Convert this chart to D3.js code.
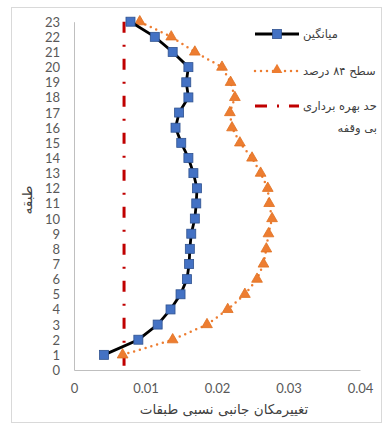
<!DOCTYPE html>
<html>
<head>
<meta charset="utf-8">
<script src="https://cdn.jsdelivr.net/npm/d3@7"></script>
<style>
  body { margin: 0; background: #fff; }
  .axis path, .axis line { stroke: #bfbfbf; }
  .axis text { font-family: Lato, 'DejaVu Sans', sans-serif; font-size: 13px; fill: #595959; }
</style>
</head>
<body>
<div class="chart-container"></div>
<script>
// Data
const floors = d3.range(1, 24);
const meanDrift = [0.0042, 0.0090, 0.0117, 0.0135, 0.0149, 0.0158, 0.0161, 0.0162, 0.0164, 0.0169,
                   0.0171, 0.0172, 0.0167, 0.0160, 0.0150, 0.0142, 0.0147, 0.0160, 0.0157, 0.0160,
                   0.0138, 0.0113, 0.0079];
const p84Drift = [0.0068, 0.0138, 0.0186, 0.0215, 0.0239, 0.0256, 0.0265, 0.0269, 0.0272, 0.0277,
                  0.0273, 0.0271, 0.0261, 0.0249, 0.0232, 0.0221, 0.0218, 0.0225, 0.0219, 0.0207,
                  0.0169, 0.0136, 0.0092];
const ioLimit = 0.007;
const xTicks = [0, 0.01, 0.02, 0.03, 0.04];
const yTicks = d3.range(0, 24);
const legendLabels = ['میانگین', 'سطح ۸۴ درصد', 'حد بهره برداری', 'بی وقفه'];

const W = 384, H = 425;
const margin = { top: 21.7, right: 24, bottom: 55, left: 74 };
const width = 360 - margin.left;
const height = 370 - margin.top;

const svg = d3.select('.chart-container')
    .append('svg')
    .attr('width', W)
    .attr('height', H);

// chart frame
svg.append('rect')
    .attr('x', 11.5).attr('y', 7.5)
    .attr('width', 370).attr('height', 415)
    .attr('fill', 'none')
    .attr('stroke', '#d9d9d9');

const g = svg.append('g')
    .attr('transform', `translate(${margin.left},${margin.top})`);

// Scales
const xScale = d3.scaleLinear().domain([0, 0.04]).range([0, width]);
const yScale = d3.scaleLinear().domain([0, 23]).range([height, 0]);

// Axes
const xAxis = d3.axisBottom(xScale)
    .tickValues(xTicks)
    .tickFormat(d => d === 0 ? '0' : d3.format('.2f')(d))
    .tickSize(0)
    .tickPadding(14);

g.append('g')
    .attr('class', 'x axis')
    .attr('transform', `translate(0,${height})`)
    .call(xAxis);

const yAxis = d3.axisLeft(yScale)
    .tickValues(yTicks)
    .tickFormat(d3.format('d'))
    .tickSize(0)
    .tickPadding(14);

g.append('g')
    .attr('class', 'y axis')
    .call(yAxis)
    .selectAll('text')
    .attr('dy', '0.35em');

// axis titles
svg.append('text')
    .attr('x', 224).attr('y', 414)
    .attr('text-anchor', 'middle')
    .attr('font-family', "'DejaVu Sans', sans-serif")
    .attr('font-size', 13.5)
    .attr('fill', '#404040')
    .attr('direction', 'rtl')
    .text('تغییرمکان جانبی نسبی طبقات');

svg.append('text')
    .attr('transform', 'translate(32,200) rotate(-90)')
    .attr('text-anchor', 'middle')
    .attr('font-family', "'DejaVu Sans', sans-serif")
    .attr('font-size', 13.5)
    .attr('fill', '#404040')
    .text('طبقه');

// red limit line
g.append('line')
    .attr('x1', xScale(ioLimit)).attr('x2', xScale(ioLimit))
    .attr('y1', yScale(23)).attr('y2', yScale(0))
    .attr('stroke', '#c00000')
    .attr('stroke-width', 3)
    .attr('stroke-dasharray', '11,12,2,12');

// 84% line
const lineGen = d3.line()
    .x(d => xScale(d.v))
    .y(d => yScale(d.f));
const p84 = floors.map((f, i) => ({ f, v: p84Drift[i] }));
const mean = floors.map((f, i) => ({ f, v: meanDrift[i] }));

g.append('path')
    .datum(p84)
    .attr('d', lineGen)
    .attr('fill', 'none')
    .attr('stroke', '#ed7d31')
    .attr('stroke-width', 2.5)
    .attr('stroke-linecap', 'round')
    .attr('stroke-dasharray', '0,6');

const tri = d3.symbol().type(d3.symbolTriangle).size(50);
g.selectAll('.tri')
    .data(p84)
    .enter()
    .append('path')
    .attr('class', 'tri')
    .attr('d', tri)
    .attr('transform', d => `translate(${xScale(d.v)},${yScale(d.f)})`)
    .attr('fill', '#ed7d31')
    .attr('stroke', '#e0701f')
    .attr('stroke-width', 0.8);

// mean line
g.append('path')
    .datum(mean)
    .attr('d', lineGen)
    .attr('fill', 'none')
    .attr('stroke', '#000')
    .attr('stroke-width', 2.8);

g.selectAll('.sq')
    .data(mean)
    .enter()
    .append('rect')
    .attr('class', 'sq')
    .attr('x', d => xScale(d.v) - 4.5)
    .attr('y', d => yScale(d.f) - 4.5)
    .attr('width', 9).attr('height', 9)
    .attr('fill', '#4472c4')
    .attr('stroke', '#2f528f')
    .attr('stroke-width', 0.8);

// Legend
const legend = svg.append('g').attr('class', 'legend');
const lx1 = 255, lx2 = 299;

legend.append('line')
    .attr('x1', lx1).attr('x2', lx2).attr('y1', 34).attr('y2', 34)
    .attr('stroke', '#000').attr('stroke-width', 2.8);
legend.append('rect')
    .attr('x', (lx1 + lx2) / 2 - 4.5).attr('y', 29.5)
    .attr('width', 9).attr('height', 9)
    .attr('fill', '#4472c4').attr('stroke', '#2f528f').attr('stroke-width', 0.8);

legend.append('line')
    .attr('x1', lx1).attr('x2', lx2).attr('y1', 71).attr('y2', 71)
    .attr('stroke', '#ed7d31').attr('stroke-width', 2.5)
    .attr('stroke-linecap', 'round').attr('stroke-dasharray', '0,6');
legend.append('path')
    .attr('d', tri)
    .attr('transform', `translate(${(lx1 + lx2) / 2},70)`)
    .attr('fill', '#ed7d31');

legend.append('line')
    .attr('x1', lx1).attr('x2', lx2).attr('y1', 106).attr('y2', 106)
    .attr('stroke', '#c00000').attr('stroke-width', 3)
    .attr('stroke-dasharray', '12,10,2,10');

// rtl text: anchor 'end' sits on the left edge, 'start' on the right edge
const legText = [
    { t: legendLabels[0], y: 38, x: 303, a: 'end' },
    { t: legendLabels[1], y: 75, x: 303, a: 'end' },
    { t: legendLabels[2], y: 110, x: 303, a: 'end' },
    { t: legendLabels[3], y: 132, x: 377, a: 'start' }
];
legend.selectAll('.lt')
    .data(legText)
    .enter()
    .append('text')
    .attr('class', 'lt')
    .attr('x', d => d.x)
    .attr('y', d => d.y)
    .attr('text-anchor', d => d.a)
    .attr('direction', 'rtl')
    .attr('font-family', "'DejaVu Sans', sans-serif")
    .attr('font-size', 11.5)
    .attr('fill', '#404040')
    .text(d => d.t);
</script>
</body>
</html>
